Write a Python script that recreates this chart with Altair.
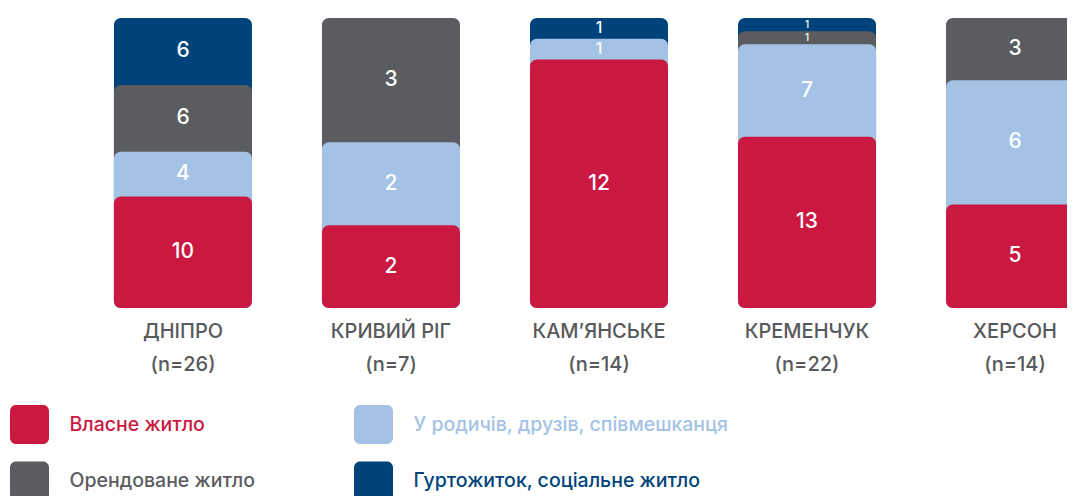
import altair as alt
import pandas as pd

# ---- data ----
cities = ["ДНІПРО", "КРИВИЙ РІГ", "КАМ’ЯНСЬКЕ", "КРЕМЕНЧУК", "ХЕРСОН"]
categories = [
    "Власне житло",
    "У родичів, друзів, співмешканця",
    "Орендоване житло",
    "Гуртожиток, соціальне житло",
]  # stacking order: bottom -> top
own = [10, 2, 12, 13, 5]
relatives = [4, 2, 1, 7, 6]
rented = [6, 3, 0, 1, 3]
dorm = [6, 0, 1, 1, 0]
colors = ["#CB1841", "#A4C2E5", "#5B5C5F", "#00437A"]

legend_cats = [
    "Власне житло",
    "Орендоване житло",
    "У родичів, друзів, співмешканця",
    "Гуртожиток, соціальне житло",
]
legend_col = [0, 0, 1, 1]
legend_row = [0, 1, 0, 1]

# ---- build tables ----
series = [own, relatives, rented, dorm]
rows = []
for i, city in enumerate(cities):
    total = sum(s[i] for s in series)
    cum = 0
    for k, cat in enumerate(categories):
        v = series[k][i]
        if v > 0:
            start, end = cum, cum + v
            rows.append({
                "city": city,
                "cat": cat,
                "count": v,
                "frac": v / total,
                "end": end / total,
                "base": 0.0,
                "mid": (start + end) / 2 / total,
                "z": len(categories) - k,
            })
            cum = end
seg = pd.DataFrame(rows).sort_values(["z"], ascending=False)

lab_rows = []
for i, city in enumerate(cities):
    total = sum(s[i] for s in series)
    lab_rows.append({"city": city, "line": 0, "text": city})
    lab_rows.append({"city": city, "line": 1, "text": f"(n={total})"})
labels = pd.DataFrame(lab_rows)

leg = pd.DataFrame({"cat": legend_cats, "col": legend_col, "row": legend_row})

FONT = "Inter"

def xband():
    return alt.Scale(domain=cities, range=[71, 1111], paddingInner=0.3365, paddingOuter=0.168)

def yfrac():
    return alt.Scale(domain=[0, 1], range=[300, 10])

color_scale = alt.Scale(domain=categories, range=colors)

bars = alt.Chart(seg).mark_bar(cornerRadius=7, clip=True).encode(
    x=alt.X("city:N", scale=xband(), axis=None, sort=cities),
    y=alt.Y("end:Q", scale=yfrac(), axis=None, stack=None),
    y2="base:Q",
    color=alt.Color("cat:N", scale=color_scale, legend=None),
    order=alt.Order("z:Q", sort="ascending"),
)

values = alt.Chart(seg).mark_text(
    color="white", font=FONT, fontWeight=500, baseline="middle", clip=True
).encode(
    x=alt.X("city:N", scale=xband(), axis=None, sort=cities),
    y=alt.Y("mid:Q", scale=yfrac(), axis=None),
    text="count:Q",
    size=alt.Size("frac:Q", scale=alt.Scale(domain=[0, 0.095], range=[0, 21], clamp=True), legend=None),
)

city_labels = alt.Chart(labels).mark_text(
    color="#58595B", fontSize=20, font=FONT, fontWeight=500, baseline="middle"
).encode(
    x=alt.X("city:N", scale=xband(), axis=None, sort=cities),
    y=alt.Y("line:O", scale=alt.Scale(type="point", domain=[0, 1], range=[324, 357], padding=0), axis=None),
    text="text:N",
)

leg_x = alt.Scale(type="point", domain=[0, 1], range=[21.5, 365.5], padding=0)
leg_y = alt.Scale(type="point", domain=[0, 1], range=[416.5, 473], padding=0)

leg_sq = alt.Chart(leg).mark_rect(width=39, height=39, cornerRadius=6).encode(
    x=alt.X("col:O", scale=leg_x, axis=None),
    y=alt.Y("row:O", scale=leg_y, axis=None),
    color=alt.Color("cat:N", scale=color_scale, legend=None),
)

leg_txt = alt.Chart(leg).mark_text(
    align="left", baseline="middle", dx=40, fontSize=19.5, font=FONT, fontWeight=500
).encode(
    x=alt.X("col:O", scale=leg_x, axis=None),
    y=alt.Y("row:O", scale=leg_y, axis=None),
    text="cat:N",
    color=alt.Color("cat:N", scale=color_scale, legend=None),
)

chart = alt.layer(bars, values, city_labels, leg_sq, leg_txt).resolve_scale(
    x="independent", y="independent", size="independent"
).properties(
    width=1059, height=488, padding=0, autosize=alt.AutoSizeParams(type="none"),
    background="white",
).configure_view(stroke=None)

chart.save("out.html", embed_options={"renderer": "svg", "actions": False})
